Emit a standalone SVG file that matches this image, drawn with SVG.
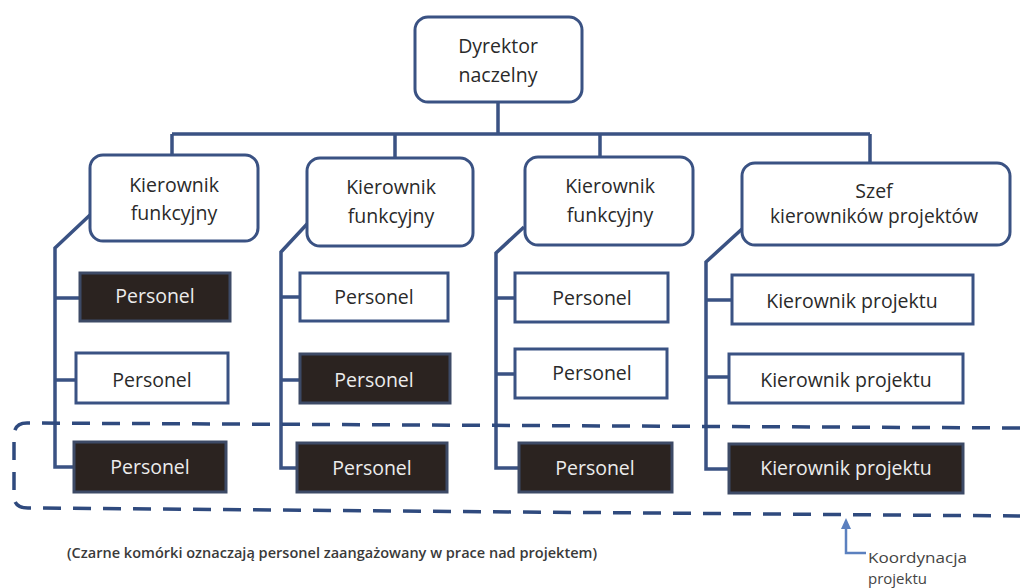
<svg xmlns="http://www.w3.org/2000/svg" width="1020" height="588" viewBox="0 0 1020 588">
  <style>
    .mgr { fill: #ffffff; stroke: #3a5283; stroke-width: 3; }
    .cell { fill: #ffffff; stroke: #3a5283; stroke-width: 3; }
    .cell-on { fill: #2b2320; stroke: #3d4a66; stroke-width: 3; }
    .line { fill: none; stroke: #3a5283; stroke-width: 3.5; stroke-linejoin: miter; }
    .dash { fill: none; stroke: #2f4a7e; stroke-width: 3.5; stroke-dasharray: 18 12; }
    .note-line { fill: none; stroke: #5b80bf; stroke-width: 2.5; }
    .note-head { fill: #5b80bf; }
    text { font-family: "Open Sans", "Liberation Sans", sans-serif; text-anchor: middle; }
    .t { font-size: 19.5px; fill: #2a2a2a; }
    .t-on { font-size: 19.5px; fill: #ececec; }
    .small { font-size: 14px; fill: #3a3a3a; text-anchor: start; font-weight: 600; }
    .note { font-size: 15px; fill: #444444; text-anchor: start; }
  </style>

  <rect width="1020" height="588" fill="#ffffff"/>

  <!-- connectors -->
  <g id="connectors">
    <path class="line" d="M498 102 V134 M172 134 H870 M172 134 V155 M395 134 V158 M600 134 V157 M870 134 V163"/>
    <!-- column 1 -->
    <path class="line" d="M90 215 L55 248 V467 H74 M55 298 H80 M55 380 H76"/>
    <!-- column 2 -->
    <path class="line" d="M308 223 L281 252 V468 H298 M281 297 H301 M281 380 H301"/>
    <!-- column 3 -->
    <path class="line" d="M524 227 L496 253 V468 H520 M496 298 H516 M496 374 H516"/>
    <!-- column 4 -->
    <path class="line" d="M742 229 L706 262 V469 H730 M706 300 H733 M706 377 H730"/>
  </g>

  <!-- top management -->
  <g id="dyrektor">
    <rect class="mgr" x="415" y="17" width="167" height="85" rx="13"/>
    <text class="t" x="498" y="53">Dyrektor</text>
    <text class="t" x="498" y="82">naczelny</text>
  </g>
  <g id="kf1">
    <rect class="mgr" x="90" y="155" width="168" height="86" rx="13"/>
    <text class="t" x="174" y="192">Kierownik</text>
    <text class="t" x="174" y="220">funkcyjny</text>
  </g>
  <g id="kf2">
    <rect class="mgr" x="307" y="158" width="166" height="88" rx="13"/>
    <text class="t" x="391" y="194">Kierownik</text>
    <text class="t" x="391" y="223">funkcyjny</text>
  </g>
  <g id="kf3">
    <rect class="mgr" x="525" y="157" width="168" height="88" rx="13"/>
    <text class="t" x="610" y="193">Kierownik</text>
    <text class="t" x="610" y="222">funkcyjny</text>
  </g>
  <g id="szef">
    <rect class="mgr" x="742" y="163" width="268" height="82" rx="13"/>
    <text class="t" x="874" y="198">Szef</text>
    <text class="t" x="874" y="223" textLength="208" lengthAdjust="spacingAndGlyphs">kierowników projektów</text>
  </g>

  <!-- column 1 staff -->
  <g id="p1a">
    <rect class="cell-on" x="80" y="273" width="150" height="48"/>
    <text class="t-on" x="155" y="303">Personel</text>
  </g>
  <g id="p1b">
    <rect class="cell" x="76" y="353" width="152" height="50"/>
    <text class="t" x="152" y="387">Personel</text>
  </g>
  <g id="p1c">
    <rect class="cell-on" x="74" y="442" width="152" height="50"/>
    <text class="t-on" x="150" y="474">Personel</text>
  </g>

  <!-- column 2 staff -->
  <g id="p2a">
    <rect class="cell" x="300" y="273" width="148" height="48"/>
    <text class="t" x="374" y="304">Personel</text>
  </g>
  <g id="p2b">
    <rect class="cell-on" x="300" y="354" width="150" height="49"/>
    <text class="t-on" x="374" y="387">Personel</text>
  </g>
  <g id="p2c">
    <rect class="cell-on" x="297" y="443" width="150" height="49"/>
    <text class="t-on" x="372" y="475">Personel</text>
  </g>

  <!-- column 3 staff -->
  <g id="p3a">
    <rect class="cell" x="515" y="273" width="153" height="49"/>
    <text class="t" x="592" y="305">Personel</text>
  </g>
  <g id="p3b">
    <rect class="cell" x="515" y="349" width="152" height="49"/>
    <text class="t" x="592" y="380">Personel</text>
  </g>
  <g id="p3c">
    <rect class="cell-on" x="519" y="443" width="153" height="49"/>
    <text class="t-on" x="595" y="475">Personel</text>
  </g>

  <!-- column 4 project managers -->
  <g id="kp1">
    <rect class="cell" x="732" y="275" width="241" height="49"/>
    <text class="t" x="852" y="308">Kierownik projektu</text>
  </g>
  <g id="kp2">
    <rect class="cell" x="729" y="354" width="234" height="49"/>
    <text class="t" x="846" y="387">Kierownik projektu</text>
  </g>
  <g id="kp3">
    <rect class="cell-on" x="729" y="444" width="234" height="49"/>
    <text class="t-on" x="846" y="475">Kierownik projektu</text>
  </g>

  <!-- project coordination band -->
  <path class="dash" d="M1020 428 L27 423 Q14 423 14 436 L14 496 Q14 508 28 508 L1020 516"/>

  <!-- annotation: arrow pointing up at the band -->
  <g id="coordination-note">
    <path class="note-line" d="M866 553 H846 V528"/>
    <path class="note-head" d="M846 518 L851 529 L841 529 Z"/>
    <text class="note" x="868" y="563" textLength="99" lengthAdjust="spacingAndGlyphs">Koordynacja</text>
    <text class="note" x="868" y="584">projektu</text>
  </g>

  <text class="small" x="67" y="558" textLength="530" lengthAdjust="spacingAndGlyphs">(Czarne komórki oznaczają personel zaangażowany w prace nad projektem)</text>
</svg>
